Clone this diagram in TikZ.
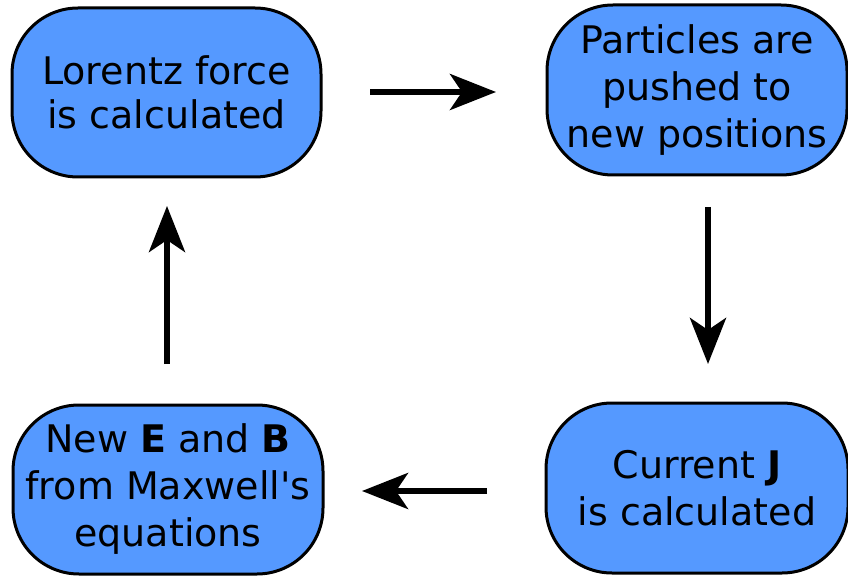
\documentclass[tikz,border=0pt]{standalone}
\usepackage{fontspec}
\setmainfont{DejaVu Sans}[Ligatures=TeXOff]
\usetikzlibrary{arrows.meta}
\definecolor{stepblue}{HTML}{5599FF}
\begin{document}
\begin{tikzpicture}[x=1pt,y=-1pt,
  stepbox/.style={draw=black, line width=3pt, fill=stepblue, rounded corners=66pt,
    align=center, inner sep=0pt, font=\fontsize{38}{47}\selectfont},
  flow/.style={line width=6pt, -{Stealth[length=46pt,width=36pt,inset=12pt]}}]
  \useasboundingbox (0,0) rectangle (848,577);
  % process steps
  \node[stepbox, minimum width=309pt, minimum height=169pt] (force) at (166.5,92.5)
    {Lorentz force\\[-3pt]is calculated};
  \node[stepbox, minimum width=300pt, minimum height=170pt] (push) at (697,90)
    {Particles are\\pushed to\\new positions};
  \node[stepbox, minimum width=302pt, minimum height=170pt] (current) at (697,488)
    {Current \textbf{J}\\is calculated};
  \node[stepbox, minimum width=310pt, minimum height=169pt] (fields) at (168,489.5)
    {New \textbf{E} and \textbf{B}\\from Maxwell's\\equations};
  % arrow end points between the steps
  \coordinate (a1s) at (370,92);
  \coordinate (a1e) at (496,92);
  \coordinate (a2s) at (708,207);
  \coordinate (a2e) at (708,364);
  \coordinate (a3s) at (487,491);
  \coordinate (a3e) at (362,491);
  \coordinate (a4s) at (167,364);
  \coordinate (a4e) at (167,206);
  \draw[flow] (a1s) -- (a1e);
  \draw[flow] (a2s) -- (a2e);
  \draw[flow] (a3s) -- (a3e);
  \draw[flow] (a4s) -- (a4e);
\end{tikzpicture}
\end{document}
